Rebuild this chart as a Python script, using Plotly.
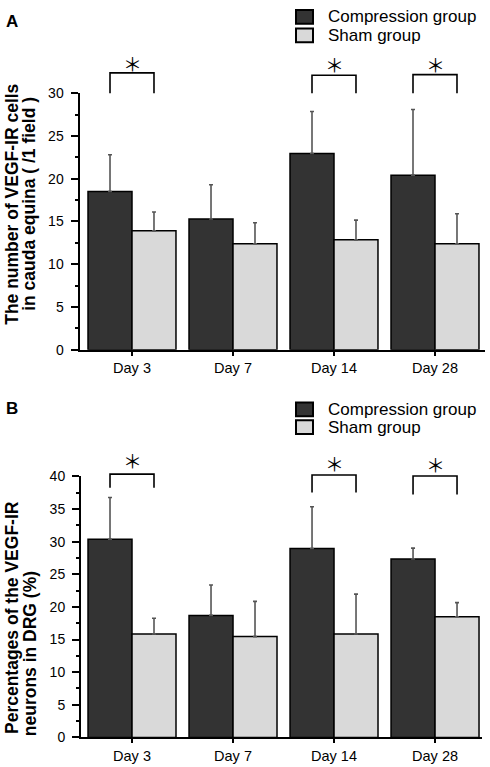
import plotly.graph_objects as go

# ---------------- data ----------------
days = ["Day 3", "Day 7", "Day 14", "Day 28"]
series_names = ["Compression group", "Sham group"]

cauda_comp = [18.5, 15.3, 22.95, 20.4]
cauda_comp_err = [4.3, 4.0, 4.9, 7.7]
cauda_sham = [13.9, 12.4, 12.85, 12.4]
cauda_sham_err = [2.2, 2.45, 2.3, 3.5]

drg_comp = [30.35, 18.7, 28.95, 27.35]
drg_comp_err = [6.4, 4.65, 6.4, 1.65]
drg_sham = [15.85, 15.45, 15.85, 18.5]
drg_sham_err = [2.4, 5.4, 6.1, 2.15]

cauda_sig = [True, False, True, True]
drg_sig = [True, False, True, True]

cauda_yticks = [0, 5, 10, 15, 20, 25, 30]
drg_yticks = [0, 5, 10, 15, 20, 25, 30, 35, 40]

# ---------------- style ----------------
W, H = 490, 767
DARK = "#333333"
LIGHT = "#d9d9d9"
ERR = "#555555"
FONT = "Liberation Sans, Arial, sans-serif"


def px(x):
    return x / W


def py(y):
    return 1 - y / H


fig = go.Figure()


def add_bars(vals, errs, color, name, xa, ya):
    fig.add_trace(go.Bar(
        x=days, y=vals, name=name, xaxis=xa, yaxis=ya,
        marker=dict(color=color, line=dict(color="black", width=1.5)),
        error_y=dict(type="data", symmetric=False, array=errs,
                     arrayminus=[0] * len(errs), color=ERR,
                     thickness=1.6, width=2),
        showlegend=False,
    ))


add_bars(cauda_comp, cauda_comp_err, DARK, series_names[0], "x", "y")
add_bars(cauda_sham, cauda_sham_err, LIGHT, series_names[1], "x", "y")
add_bars(drg_comp, drg_comp_err, DARK, series_names[0], "x2", "y2")
add_bars(drg_sham, drg_sham_err, LIGHT, series_names[1], "x2", "y2")

xcommon = dict(type="category", showline=True, linecolor="black", linewidth=2,
               ticks="outside", ticklen=4, tickwidth=1.5, tickcolor="black",
               showgrid=False, zeroline=False,
               tickfont=dict(family=FONT, size=14.5, color="black"))
ycommon = dict(showline=True, linecolor="black", linewidth=2,
               ticks="outside", ticklen=7, tickwidth=1.5, tickcolor="black",
               showgrid=False, zeroline=False, ticklabelstandoff=4,
               minor=dict(dtick=2.5, ticks="outside", ticklen=3,
                          tickwidth=1.5, tickcolor="black"),
               tickfont=dict(family=FONT, size=14, color="black"))

fig.update_layout(
    width=W, height=H,
    margin=dict(l=0, r=0, t=0, b=0),
    paper_bgcolor="white", plot_bgcolor="white",
    barmode="group", bargap=0.129, bargroupgap=0,
    xaxis=dict(domain=[px(79.5), px(485)], range=[-0.5198, 3.4951],
               anchor="y", **xcommon),
    yaxis=dict(domain=[py(349), py(87)], range=[0, 30], tickvals=cauda_yticks,
               anchor="x", **ycommon),
    xaxis2=dict(domain=[px(81), px(482)], range=[-0.505, 3.465],
                anchor="y2", **xcommon),
    yaxis2=dict(domain=[py(745), py(478.3)], range=[0, 40], tickvals=drg_yticks,
                anchor="x2", **ycommon),
)

shapes = []
annotations = []

# half distance between the two bar centres in a category (category units)
half = (1 - 0.129) / 4


def add_brackets(sig, xa, ydom, tops, legs, stars):
    for i, s in enumerate(sig):
        if not s:
            continue
        x0, x1 = i - half, i + half
        shapes.append(dict(
            type="path", xref=xa, yref=ydom,
            path=f"M {x0},{legs[i]} L {x0},{tops[i]} L {x1},{tops[i]} L {x1},{legs[i]}",
            line=dict(color="black", width=1.6)))
        annotations.append(dict(
            x=i, y=stars[i], xref=xa, yref=ydom, text="＊", showarrow=False,
            font=dict(family="Noto Sans CJK JP", size=19, color="black"),
            xanchor="center", yanchor="middle"))


add_brackets(cauda_sig, "x", "y domain",
             tops=[1.079, None, 1.070, 1.0725],
             legs=[1.0, None, 1.0, 1.0],
             stars=[1.115, None, 1.111, 1.111])
add_brackets(drg_sig, "x2", "y2 domain",
             tops=[1.0086, None, 1.005, 1.001],
             legs=[0.956, None, 0.9376, 0.930],
             stars=[1.0624, None, 1.05, 1.0435])


# custom legends
def add_legend(y_first, y_second):
    for (yt, yb), color, name in zip([y_first, y_second], [DARK, LIGHT], series_names):
        shapes.append(dict(type="rect", xref="paper", yref="paper",
                           x0=px(296), x1=px(313), y0=py(yb), y1=py(yt),
                           fillcolor=color, line=dict(color="black", width=2)))
        annotations.append(dict(x=px(327), y=py((yt + yb) / 2), xref="paper", yref="paper",
                                text=name, showarrow=False, xanchor="left", yanchor="middle",
                                borderpad=0,
                                font=dict(family=FONT, size=17, color="black")))


add_legend((2, 16), (21, 35))
add_legend((403, 417), (421, 435))

# panel letters
for letter, yc in [("A", 14), ("B", 409)]:
    annotations.append(dict(x=px(4), y=py(yc), xref="paper", yref="paper", text=f"<b>{letter}</b>",
                            showarrow=False, xanchor="left", yanchor="middle",
                            font=dict(family=FONT, size=17, color="black")))

# y-axis titles (two lines each)
ytitles = [
    ("The number of VEGF-IR cells", 12, 201),
    ("in cauda equina ( /1 field )", 29, 200),
    ("Percentages of the VEGF-IR", 12, 623),
    ("neurons in DRG (%)", 30, 660),
]
for txt, xc, yc in ytitles:
    annotations.append(dict(x=px(xc), y=py(yc), xref="paper", yref="paper",
                            text=f"<b>{txt}</b>", textangle=-90, showarrow=False,
                            xanchor="center", yanchor="middle",
                            font=dict(family=FONT, size=17.5, color="black")))

fig.update_layout(shapes=shapes, annotations=annotations)

post = """
document.documentElement.style.margin='0';
document.documentElement.style.overflow='hidden';
document.body.style.margin='0';
document.body.style.padding='0';
document.body.style.overflow='hidden';
var gd=document.getElementById('{plot_id}');
gd.style.position='absolute'; gd.style.left='0px'; gd.style.top='0px';
"""
fig.write_html("out.html", post_script=post, config={"displayModeBar": False})
